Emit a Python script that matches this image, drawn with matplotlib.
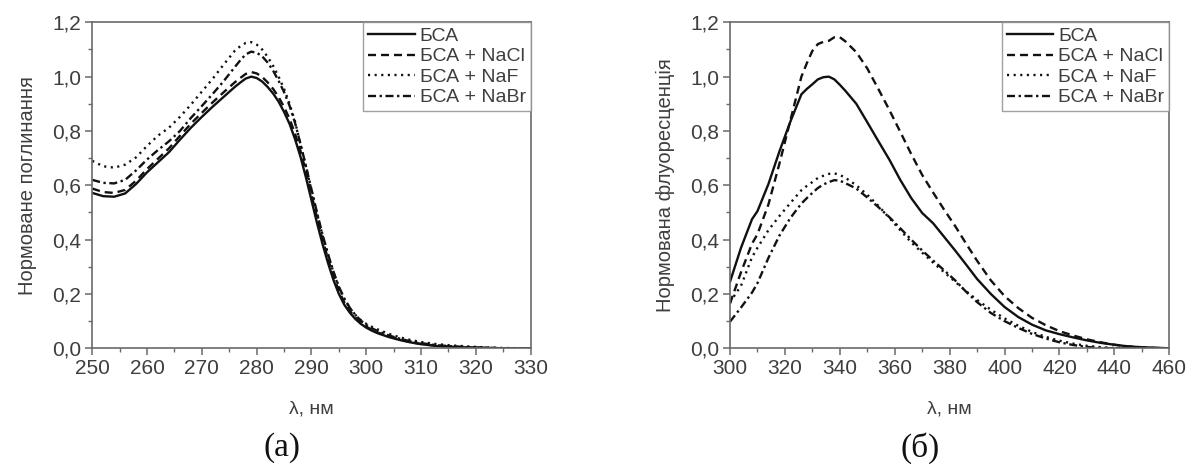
import matplotlib
matplotlib.use("Agg")
import matplotlib.pyplot as plt
from matplotlib.ticker import MultipleLocator, FuncFormatter

# ---------------- data ----------------
labels = ["БСА", "БСА + NaCl", "БСА + NaF", "БСА + NaBr"]

wl_abs = [250, 252, 254, 256, 258, 260, 262, 264, 266, 268, 270, 272, 274, 276, 277,
          278, 279, 280, 281, 282, 283, 284, 285, 286, 287, 288, 289, 290, 291, 292,
          293, 294, 295, 296, 297, 298, 299, 300, 301, 302, 304, 306, 308, 310, 313,
          316, 320, 325, 330]
abs_bsa = [0.572, 0.560, 0.558, 0.570, 0.605, 0.648, 0.685, 0.722, 0.768, 0.812, 0.852,
           0.890, 0.926, 0.962, 0.978, 0.993, 1.000, 0.995, 0.982, 0.962, 0.938, 0.908,
           0.870, 0.826, 0.770, 0.705, 0.628, 0.545, 0.462, 0.385, 0.315, 0.252, 0.200,
           0.160, 0.131, 0.108, 0.090, 0.076, 0.065, 0.056, 0.042, 0.031, 0.022, 0.015,
           0.008, 0.005, 0.002, 0.0, 0.0]
abs_nacl = [0.588, 0.575, 0.572, 0.583, 0.617, 0.660, 0.698, 0.736, 0.782, 0.827, 0.867,
            0.906, 0.943, 0.979, 0.995, 1.010, 1.017, 1.012, 0.999, 0.979, 0.955, 0.925,
            0.888, 0.845, 0.790, 0.726, 0.650, 0.566, 0.482, 0.402, 0.330, 0.265, 0.211,
            0.169, 0.137, 0.113, 0.094, 0.080, 0.068, 0.059, 0.044, 0.033, 0.023, 0.016,
            0.009, 0.005, 0.002, 0.0, 0.0]
abs_naf = [0.690, 0.670, 0.665, 0.676, 0.703, 0.745, 0.783, 0.812, 0.852, 0.897, 0.945,
           0.993, 1.045, 1.095, 1.112, 1.124, 1.127, 1.118, 1.100, 1.073, 1.040, 1.000,
           0.955, 0.900, 0.835, 0.750, 0.668, 0.582, 0.497, 0.417, 0.345, 0.280, 0.224,
           0.181, 0.148, 0.123, 0.104, 0.090, 0.079, 0.070, 0.054, 0.041, 0.031, 0.023,
           0.015, 0.010, 0.005, 0.001, 0.0]
abs_nabr = [0.620, 0.609, 0.607, 0.620, 0.655, 0.695, 0.730, 0.762, 0.800, 0.848, 0.892,
            0.937, 0.984, 1.035, 1.060, 1.082, 1.092, 1.088, 1.075, 1.052, 1.022, 0.985,
            0.943, 0.893, 0.830, 0.752, 0.670, 0.585, 0.500, 0.420, 0.348, 0.283, 0.227,
            0.183, 0.149, 0.123, 0.102, 0.086, 0.074, 0.064, 0.048, 0.036, 0.026, 0.019,
            0.011, 0.007, 0.003, 0.0, 0.0]

wl_fl = [300, 304, 308, 310, 314, 318, 322, 326, 328, 330, 332, 334, 336, 338, 340, 342,
         346, 350, 354, 358, 362, 366, 370, 374, 378, 382, 386, 390, 395, 400, 405, 410,
         415, 420, 425, 430, 435, 440, 445, 450, 455, 460]
fl_bsa = [0.245, 0.370, 0.475, 0.505, 0.605, 0.725, 0.835, 0.935, 0.955, 0.972, 0.990,
          0.998, 1.000, 0.990, 0.970, 0.948, 0.900, 0.832, 0.763, 0.695, 0.620, 0.553,
          0.498, 0.460, 0.410, 0.360, 0.308, 0.255, 0.200, 0.152, 0.115, 0.087, 0.066,
          0.052, 0.040, 0.029, 0.020, 0.013, 0.007, 0.004, 0.002, 0.0]
fl_nacl = [0.165, 0.280, 0.385, 0.420, 0.530, 0.680, 0.840, 1.000, 1.050, 1.095, 1.120,
           1.128, 1.132, 1.145, 1.145, 1.130, 1.090, 1.030, 0.955, 0.878, 0.797, 0.715,
           0.638, 0.573, 0.510, 0.450, 0.385, 0.322, 0.250, 0.192, 0.148, 0.112, 0.085,
           0.063, 0.047, 0.033, 0.022, 0.013, 0.007, 0.003, 0.001, 0.0]
fl_naf = [0.170, 0.230, 0.335, 0.370, 0.435, 0.487, 0.535, 0.582, 0.598, 0.612, 0.627,
          0.635, 0.642, 0.644, 0.638, 0.628, 0.600, 0.565, 0.525, 0.480, 0.435, 0.390,
          0.352, 0.315, 0.280, 0.245, 0.210, 0.178, 0.142, 0.110, 0.083, 0.060, 0.042,
          0.028, 0.017, 0.009, 0.004, 0.001, 0.0, 0.0, 0.0, 0.0]
fl_nabr = [0.098, 0.150, 0.205, 0.240, 0.333, 0.415, 0.480, 0.533, 0.553, 0.572, 0.590,
           0.603, 0.612, 0.619, 0.617, 0.608, 0.588, 0.555, 0.520, 0.483, 0.442, 0.400,
           0.360, 0.323, 0.287, 0.250, 0.208, 0.170, 0.130, 0.100, 0.075, 0.053, 0.036,
           0.022, 0.012, 0.005, 0.001, 0.0, 0.0, 0.0, 0.0, 0.0]

# ---------------- style ----------------
plt.rcParams['font.family'] = ['Liberation Sans', 'DejaVu Sans']
TXT = '#3e3e3e'
SP = '#6a6a6a'
LW = 1.7
styles = [
    dict(linestyle='-'),
    dict(linestyle=(0, (3.4, 2.1))),
    dict(linestyle=(0, (0.9, 1.9))),
    dict(linestyle=(0, (3.4, 1.5, 1.0, 1.5))),
]

fig = plt.figure(figsize=(11.95, 4.65), dpi=100)
ax1 = fig.add_axes([0.0772, 0.251, 0.3669, 0.701])
ax2 = fig.add_axes([0.6109, 0.251, 0.3676, 0.701])

comma = FuncFormatter(lambda v, p: f"{v:.1f}".replace('.', ','))

def setup(ax, xlim, xmaj, xmin, ylabel):
    ax.set_xlim(*xlim)
    ax.set_ylim(0, 1.2)
    ax.xaxis.set_major_locator(MultipleLocator(xmaj))
    ax.xaxis.set_minor_locator(MultipleLocator(xmin))
    ax.yaxis.set_major_locator(MultipleLocator(0.2))
    ax.yaxis.set_minor_locator(MultipleLocator(0.1))
    ax.yaxis.set_major_formatter(comma)
    for s in ax.spines.values():
        s.set_color(SP)
        s.set_linewidth(1.2)
    ax.tick_params(which='major', direction='out', length=5, width=1.1, color=SP,
                   labelsize=15, labelcolor=TXT, pad=3)
    ax.tick_params(which='minor', direction='out', length=3, width=1.0, color=SP)
    ax.set_xlabel("λ, нм", fontsize=14, color=TXT, labelpad=16)
    ax.set_ylabel(ylabel, fontsize=14.5, color=TXT, labelpad=11)

series_abs = [abs_bsa, abs_nacl, abs_naf, abs_nabr]
series_fl = [fl_bsa, fl_nacl, fl_naf, fl_nabr]

for ys, lab, st in zip(series_abs, labels, styles):
    ax1.plot(wl_abs, ys, color='#111111', lw=LW, label=lab, **st)
for ys, lab, st in zip(series_fl, labels, styles):
    ax2.plot(wl_fl, ys, color='#111111', lw=LW, label=lab, **st)

setup(ax1, (250, 330), 10, 5, "Нормоване поглинання")
setup(ax2, (300, 460), 20, 10, "Нормована флуоресценція")

for ax in (ax1, ax2):
    leg = ax.legend(loc='upper right', fontsize=14, frameon=True, fancybox=False,
                    borderaxespad=0.0, handlelength=2.4, handletextpad=0.25,
                    labelspacing=0.15, borderpad=0.25)
    leg.get_frame().set_edgecolor('#8a8a8a')
    leg.get_frame().set_linewidth(1.0)
    for t in leg.get_texts():
        t.set_color(TXT)

fig.text(0.236, 0.037, "(а)", fontsize=24, family='Liberation Serif', ha='center', va='center', color='#111111')
fig.text(0.770, 0.037, "(б)", fontsize=24, family='Liberation Serif', ha='center', va='center', color='#111111')

fig.savefig("out.png", dpi=100)
